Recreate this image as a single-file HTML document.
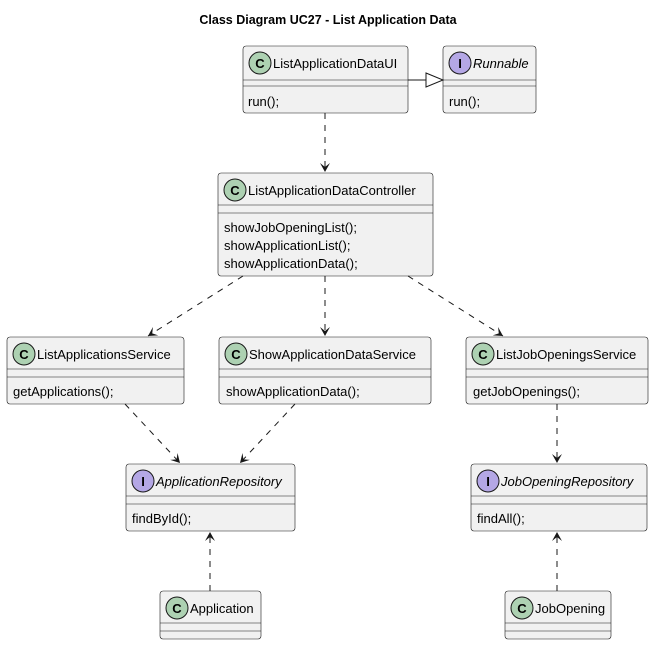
<!DOCTYPE html>
<html><head><style>body{margin:0;background:#fff}svg{display:block}text{font-family:"Liberation Sans",sans-serif;fill:#000}</style></head><body>
<svg width="656" height="645" viewBox="0 0 656 645" xmlns="http://www.w3.org/2000/svg">
<defs>
<marker id="a" markerWidth="12" markerHeight="12" refX="10" refY="6" orient="auto" markerUnits="userSpaceOnUse"><path d="M1,1 L10,6 L1,11 L5,6 Z" fill="#181818"/></marker>
</defs>
<text x="328" y="24" text-anchor="middle" font-size="12.5" font-weight="bold">Class Diagram UC27 - List Application Data</text>
<g fill="#F1F1F1" stroke="#181818" stroke-width="0.6">
<rect x="243" y="46" width="165" height="67" rx="3"/>
<rect x="443" y="46" width="93" height="67" rx="3"/>
<rect x="218" y="173" width="215" height="103" rx="3"/>
<rect x="7" y="337" width="177" height="67" rx="3"/>
<rect x="219" y="337" width="212" height="67" rx="3"/>
<rect x="466" y="337" width="182" height="67" rx="3"/>
<rect x="126" y="464" width="169" height="67" rx="3"/>
<rect x="471" y="464" width="176" height="67" rx="3"/>
<rect x="160" y="591" width="101" height="48" rx="3"/>
<rect x="505" y="591" width="106" height="48" rx="3"/>
</g>
<g stroke="#181818" stroke-width="0.6">
<path d="M243,80H408M243,86H408M443,80H536M443,86H536M218,205H433M218,213H433M7,369H184M7,377H184M219,369H431M219,377H431M466,369H648M466,377H648M126,496H295M126,504H295M471,496H647M471,504H647M160,623H261M160,631H261M505,623H611M505,631H611"/>
</g>
<g stroke="#181818" stroke-width="1">
<circle cx="260" cy="63" r="11" fill="#ADD1B2"/>
<circle cx="460" cy="63" r="11" fill="#B4A7E5"/>
<circle cx="235" cy="190" r="11" fill="#ADD1B2"/>
<circle cx="24" cy="354" r="11" fill="#ADD1B2"/>
<circle cx="236" cy="354" r="11" fill="#ADD1B2"/>
<circle cx="483" cy="354" r="11" fill="#ADD1B2"/>
<circle cx="143" cy="481" r="11" fill="#B4A7E5"/>
<circle cx="488" cy="481" r="11" fill="#B4A7E5"/>
<circle cx="177" cy="608" r="11" fill="#ADD1B2"/>
<circle cx="522" cy="608" r="11" fill="#ADD1B2"/>
</g>
<g font-size="13" font-weight="bold" text-anchor="middle">
<text x="260" y="68">C</text><text x="460" y="68">I</text><text x="235" y="195">C</text><text x="24" y="359">C</text><text x="236" y="359">C</text><text x="483" y="359">C</text><text x="143" y="486">I</text><text x="488" y="486">I</text><text x="177" y="613">C</text><text x="522" y="613">C</text>
</g>
<g font-size="13">
<text x="273" y="68">ListApplicationDataUI</text>
<text x="473" y="68" font-style="italic">Runnable</text>
<text x="248" y="106">run();</text>
<text x="449" y="106">run();</text>
<text x="248" y="195">ListApplicationDataController</text>
<text x="224" y="232">showJobOpeningList();</text>
<text x="224" y="250">showApplicationList();</text>
<text x="224" y="268">showApplicationData();</text>
<text x="37" y="359">ListApplicationsService</text>
<text x="13" y="396">getApplications();</text>
<text x="249" y="359">ShowApplicationDataService</text>
<text x="226" y="396">showApplicationData();</text>
<text x="496" y="359">ListJobOpeningsService</text>
<text x="473" y="396">getJobOpenings();</text>
<text x="156" y="486" font-style="italic">ApplicationRepository</text>
<text x="132" y="523">findById();</text>
<text x="501" y="486" font-style="italic">JobOpeningRepository</text>
<text x="477" y="523">findAll();</text>
<text x="190" y="613">Application</text>
<text x="535" y="613">JobOpening</text>
</g>
<g stroke="#181818" stroke-width="1" stroke-dasharray="6,6" fill="none" marker-end="url(#a)">
<path d="M325,113V172"/>
<path d="M243,276L148,336"/>
<path d="M325,276V336"/>
<path d="M408,276L503,336"/>
<path d="M125,404L180,463"/>
<path d="M295,404L240,463"/>
<path d="M557,404V463"/>
<path d="M210,591V532"/>
<path d="M557,591V532"/>
</g>
<path d="M408,80H426" stroke="#181818" stroke-width="1"/>
<path d="M426,73L443,80L426,87Z" fill="#fff" stroke="#181818" stroke-width="1"/>
</svg>
</body></html>
